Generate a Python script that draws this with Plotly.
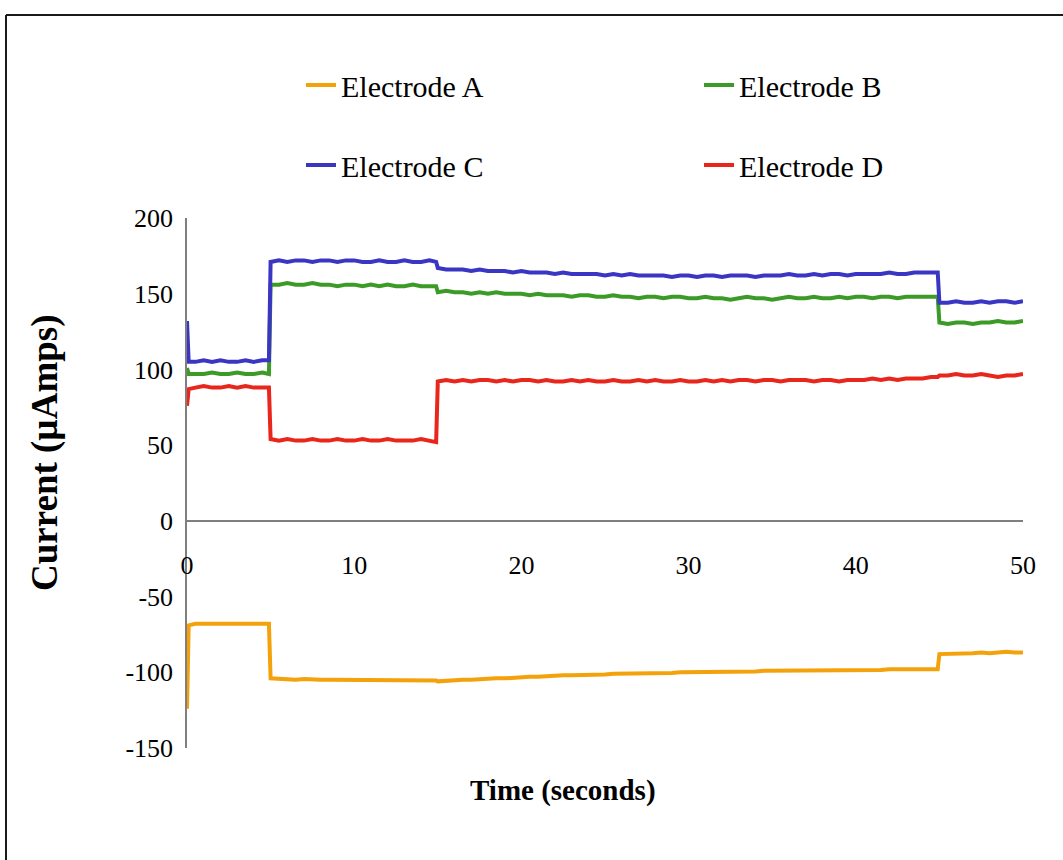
import plotly.graph_objects as go

# Sampling times (s): a short first sample, a 0.5 s grid, and a sample just
# before each switching instant (5, 15 and 45 s).
TIME = (
    [0.0, 0.1]
    + [0.5 * k for k in range(1, 10)] + [4.9]
    + [5.0 + 0.5 * k for k in range(20)] + [14.9]
    + [15.0 + 0.5 * k for k in range(60)] + [44.9]
    + [45.0 + 0.5 * k for k in range(11)]
)

ELECTRODE_A = (
    [-124, -69]
    + [-68, -68, -68.5, -68, -68, -68, -68.5, -68, -68, -68]
    + [-104, -104.5, -104.5, -105, -104.5, -105, -105, -105, -105, -105,
       -105, -105.5, -105, -105, -105, -105, -105, -105, -105, -105, -105.5]
    + [-106, -105.5, -105.5, -105, -105, -104.5, -104.5, -104, -104, -103.5,
       -103.5, -103, -103, -102.5, -102.5, -102, -102, -102, -102, -101.5,
       -101.5, -101, -101, -101, -101, -100.5, -100.5, -100.5, -100.5, -100,
       -100, -100, -100, -99.5, -99.5, -99.5, -99.5, -99.5, -99.5, -99,
       -99, -99, -99, -99, -99, -98.5, -98.5, -98.5, -98.5, -98.5,
       -98.5, -98.5, -98.5, -98.5, -98, -98, -98, -98, -98, -98,
       -98]
    + [-88, -88, -87.5, -88, -87.5, -87, -87.5, -87, -86.5, -87, -87]
)

ELECTRODE_B = (
    [101, 97]
    + [97, 97, 98, 97, 97, 98, 97, 97, 98, 97]
    + [156, 156, 157, 156, 156, 157, 156, 156, 155, 156,
       156, 155, 156, 155, 156, 155, 155, 156, 155, 155, 155]
    + [151, 152, 151, 151, 150, 151, 150, 151, 150, 150,
       150, 149, 150, 149, 149, 149, 148, 149, 149, 148,
       148, 149, 148, 148, 147, 148, 148, 147, 148, 148,
       147, 147, 148, 147, 147, 146, 147, 148, 147, 147,
       146, 147, 148, 147, 147, 148, 147, 147, 148, 147,
       148, 148, 147, 148, 148, 147, 148, 148, 148, 148,
       148]
    + [131, 130, 131, 131, 130, 131, 131, 132, 131, 131, 132]
)

ELECTRODE_C = (
    [132, 105]
    + [105, 106, 105, 106, 105, 105, 106, 105, 106, 106]
    + [171, 172, 171, 172, 172, 171, 172, 172, 171, 172,
       172, 171, 171, 172, 171, 171, 172, 171, 171, 172, 171]
    + [167, 166, 166, 166, 165, 166, 165, 165, 165, 164,
       165, 164, 164, 164, 163, 164, 163, 163, 163, 163,
       162, 163, 162, 163, 162, 162, 162, 162, 161, 162,
       162, 161, 162, 162, 161, 162, 162, 162, 161, 162,
       162, 162, 163, 162, 162, 163, 162, 163, 163, 162,
       163, 163, 163, 163, 164, 163, 163, 164, 164, 164,
       164]
    + [144, 144, 145, 144, 144, 145, 144, 145, 145, 144, 145]
)

ELECTRODE_D = (
    [76, 87]
    + [88, 89, 88, 88, 89, 88, 89, 88, 88, 88]
    + [54, 53, 54, 53, 53, 54, 53, 53, 54, 53,
       53, 54, 53, 53, 54, 53, 53, 53, 54, 53, 52]
    + [92, 93, 92, 93, 92, 93, 93, 92, 93, 92,
       93, 93, 92, 93, 92, 92, 93, 92, 93, 92,
       92, 93, 92, 92, 93, 92, 93, 92, 92, 93,
       92, 92, 93, 92, 93, 92, 93, 93, 92, 93,
       93, 92, 93, 93, 93, 92, 93, 93, 92, 93,
       93, 93, 94, 93, 94, 93, 94, 94, 94, 95,
       95]
    + [96, 96, 97, 96, 96, 97, 96, 95, 96, 96, 97]
)

SERIES_NAMES = ["Electrode A", "Electrode B", "Electrode C", "Electrode D"]
SERIES_COLORS = ["#F4A20C", "#3C9A26", "#3B35C4", "#E8261C"]
SERIES_LEGEND = ["legend", "legend", "legend2", "legend2"]

X_TICKS = [0, 10, 20, 30, 40, 50]
Y_TICKS = [-150, -100, -50, 0, 50, 100, 150, 200]

FONT = "Liberation Serif, Times New Roman, serif"

fig = go.Figure()
for name, vals, color, leg in zip(SERIES_NAMES,
                                  [ELECTRODE_A, ELECTRODE_B, ELECTRODE_C, ELECTRODE_D],
                                  SERIES_COLORS, SERIES_LEGEND):
    assert len(vals) == len(TIME)
    fig.add_trace(go.Scatter(
        x=TIME, y=vals, mode="lines", name=name, legend=leg,
        line=dict(color=color, width=4),
    ))

# plot area: left 187 px, right 1023 px, top 218 px, bottom 748 px
L, R, T, B = 187, 1023, 218, 748
W, H = R - L, B - T


def px_x(p):
    return (p - L) / W


def px_y(p):
    return (B - p) / H


legend_style = dict(orientation="h", x=px_x(301), xanchor="left", yanchor="middle",
                    entrywidth=353, entrywidthmode="pixels",
                    font=dict(family=FONT, size=30, color="black"),
                    bgcolor="rgba(0,0,0,0)")

fig.update_layout(
    width=1063, height=860,
    margin=dict(l=L, r=1063 - R, t=T, b=860 - B, autoexpand=False),
    paper_bgcolor="white", plot_bgcolor="white",
    font=dict(family=FONT, size=26, color="black"),
    showlegend=True,
    legend=dict(y=px_y(85), **legend_style),
    legend2=dict(y=px_y(165), **legend_style),
    xaxis=dict(
        range=[0, 50], tickvals=X_TICKS, ticktext=[str(v) for v in X_TICKS],
        showgrid=False, showline=False, zeroline=False, ticks="",
        anchor="free", position=px_y(520), ticklabelstandoff=27,
        tickfont=dict(family=FONT, size=26, color="black"),
    ),
    yaxis=dict(
        range=[-150, 200], tickvals=Y_TICKS, ticktext=[str(v) for v in Y_TICKS],
        showgrid=False, showline=True, linecolor="#7f7f7f", linewidth=1.5,
        zeroline=True, zerolinecolor="#7f7f7f", zerolinewidth=1.5,
        ticks="", ticklabelstandoff=7,
        tickfont=dict(family=FONT, size=26, color="black"),
    ),
    annotations=[
        dict(text="<b>Time (seconds)</b>", xref="paper", yref="paper",
             x=px_x(563), y=px_y(790), xanchor="center", yanchor="middle",
             showarrow=False, font=dict(family=FONT, size=29, color="black")),
        dict(text="<b>Current (µAmps)</b>", xref="paper", yref="paper",
             x=px_x(45), y=px_y(453), xanchor="center", yanchor="middle",
             textangle=-90, showarrow=False,
             font=dict(family=FONT, size=37, color="black")),
    ],
    shapes=[
        # outer chart frame: top and left edges
        dict(type="line", xref="paper", yref="paper",
             x0=px_x(6), x1=px_x(1063), y0=px_y(15), y1=px_y(15),
             line=dict(color="#1a1a1a", width=2), layer="below"),
        dict(type="line", xref="paper", yref="paper",
             x0=px_x(6), x1=px_x(6), y0=px_y(15), y1=px_y(860),
             line=dict(color="#1a1a1a", width=2), layer="below"),
    ],
)

fig.write_html("out.html", config={"displayModeBar": False})
